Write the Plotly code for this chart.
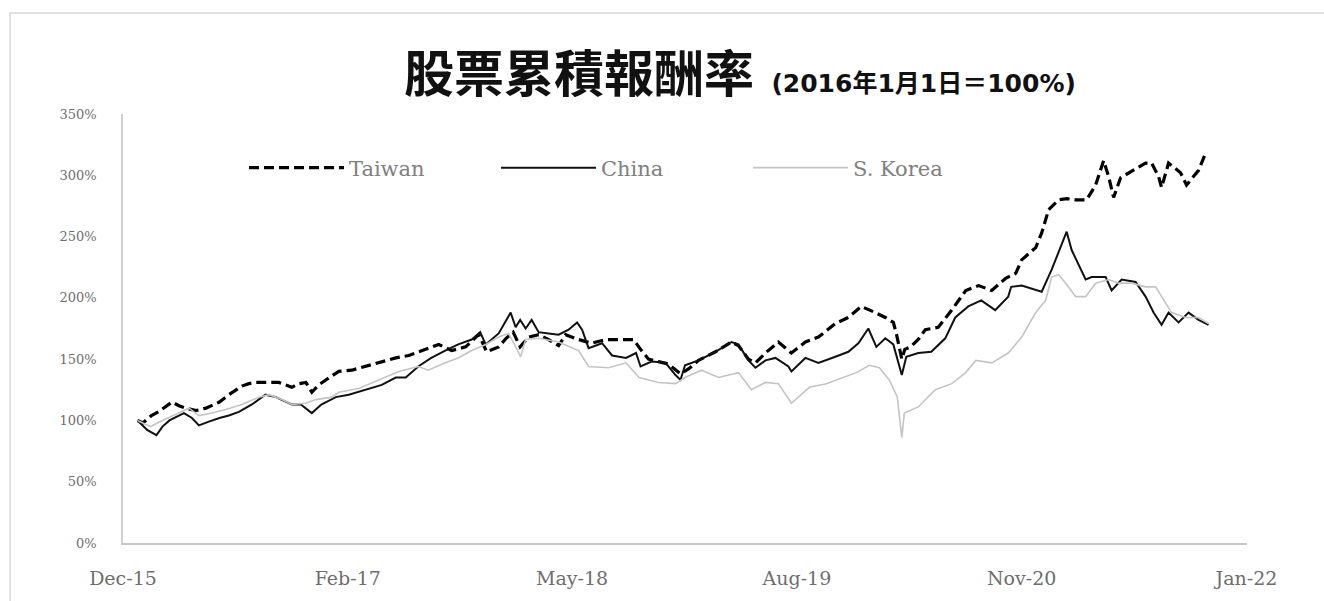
import plotly.graph_objects as go

# ---- data ----
taiwan_dates = ["2016-01-01","2016-01-12","2016-01-29","2016-02-12","2016-03-10","2016-03-24","2016-04-07","2016-04-27",
 "2016-05-17","2016-05-29","2016-06-13","2016-07-02","2016-07-28","2016-08-11","2016-08-24","2016-09-13","2016-10-10",
 "2016-10-23","2016-11-05","2016-11-19","2016-12-03","2016-12-15","2016-12-29","2017-01-12","2017-02-07","2017-03-05",
 "2017-04-02","2017-04-28","2017-06-01","2017-06-27","2017-07-22","2017-08-26","2017-09-21","2017-10-19","2017-11-14",
 "2017-11-30","2017-12-24","2018-01-08","2018-01-22","2018-02-05","2018-02-22","2018-03-14","2018-04-03","2018-04-23",
 "2018-05-07","2018-06-02","2018-06-28","2018-07-27","2018-08-21","2018-09-20","2018-10-04","2018-10-20","2018-11-09",
 "2018-11-29","2018-12-23","2019-01-08","2019-01-28","2019-03-03","2019-04-04","2019-04-18","2019-05-08","2019-05-22",
 "2019-06-11","2019-07-07","2019-08-02","2019-08-30","2019-09-25","2019-10-29","2019-11-24","2019-12-20","2020-01-17",
 "2020-02-06","2020-02-22","2020-02-28","2020-03-10","2020-03-16","2020-03-27","2020-04-12","2020-04-26","2020-05-22",
 "2020-06-18","2020-07-16","2020-08-11","2020-09-06","2020-10-04","2020-10-24","2020-11-05","2020-12-03","2020-12-15",
 "2020-12-29","2021-01-18","2021-02-03","2021-02-21","2021-03-15","2021-04-02","2021-04-18","2021-04-28","2021-05-08",
 "2021-05-22","2021-06-13","2021-07-11","2021-07-23","2021-08-06","2021-08-12","2021-08-26","2021-09-19","2021-10-01",
 "2021-10-25","2021-11-08"]
taiwan_vals = [100,98,104,107,115,112,110,108,
 110,112,115,121,128,130,131,131,131,
 129,127,130,131,123,129,133,140,141,
 144,147,151,153,157,162,157,160,170,
 156,160,167,172,160,168,170,166,161,
 170,166,163,166,166,166,158,150,148,
 146,138,142,149,156,164,161,150,147,
 155,164,155,164,168,179,184,193,188,
 184,180,171,150,158,160,166,174,176,
 190,206,210,206,216,220,231,241,253,
 272,280,281,280,280,292,312,299,282,
 298,303,310,310,299,290,310,302,292,
 304,318]

china_dates = ["2016-01-01","2016-01-21","2016-02-08","2016-02-20","2016-03-05","2016-04-03","2016-04-19","2016-05-03",
 "2016-05-23","2016-06-13","2016-07-02","2016-07-22","2016-08-17","2016-09-13","2016-10-04","2016-11-05","2016-11-23",
 "2016-12-15","2017-01-03","2017-02-01","2017-02-27","2017-04-02","2017-05-04","2017-06-01","2017-06-21","2017-07-16",
 "2017-08-11","2017-09-08","2017-10-04","2017-10-31","2017-11-17","2017-11-28","2017-12-24","2018-01-17","2018-01-27",
 "2018-02-05","2018-02-16","2018-02-28","2018-03-14","2018-04-03","2018-04-23","2018-05-13","2018-05-30","2018-06-09",
 "2018-06-22","2018-07-19","2018-08-08","2018-09-05","2018-09-25","2018-10-04","2018-10-26","2018-11-23","2018-12-13",
 "2018-12-23","2019-01-01","2019-01-28","2019-03-03","2019-04-04","2019-04-18","2019-05-08","2019-05-22","2019-06-11",
 "2019-07-01","2019-07-27","2019-08-02","2019-08-30","2019-09-25","2019-10-29","2019-11-24","2019-12-14","2020-01-03",
 "2020-01-19","2020-02-06","2020-02-22","2020-03-03","2020-03-10","2020-03-19","2020-04-12","2020-05-08","2020-06-05",
 "2020-06-25","2020-07-21","2020-08-16","2020-09-13","2020-10-09","2020-10-15","2020-11-05","2020-12-15","2021-01-04",
 "2021-01-18","2021-02-03","2021-02-13","2021-02-27","2021-03-13","2021-03-25","2021-04-22","2021-05-04","2021-05-24",
 "2021-06-21","2021-07-11","2021-07-27","2021-08-12","2021-08-26","2021-09-15","2021-10-05","2021-10-25","2021-11-14"]
china_vals = [100,92,88,95,100,106,102,96,
 99,102,104,107,113,121,119,113,113,
 106,113,119,121,125,129,135,135,144,
 151,157,162,166,172,162,171,188,176,
 182,175,182,172,171,170,174,180,174,
 159,163,153,151,155,144,148,147,137,
 133,145,149,156,164,162,149,143,149,
 151,144,140,151,147,152,156,163,175,
 160,167,162,147,137,152,155,156,167,
 184,193,198,190,201,209,210,205,223,
 237,254,239,227,215,217,217,206,215,
 213,201,188,178,188,180,188,182,178]

korea_dates = ["2016-01-01","2016-01-27","2016-02-20","2016-03-24","2016-04-13","2016-05-03","2016-05-29","2016-06-26",
 "2016-07-28","2016-08-31","2016-09-20","2016-10-16","2016-11-05","2016-12-03","2016-12-23","2017-01-24","2017-02-07",
 "2017-03-19","2017-04-28","2017-06-07","2017-07-16","2017-08-05","2017-09-08","2017-10-04","2017-10-31","2017-11-28",
 "2017-12-24","2018-01-13","2018-02-06","2018-02-16","2018-03-14","2018-04-23","2018-06-02","2018-06-22","2018-08-01",
 "2018-09-05","2018-10-01","2018-11-09","2018-12-13","2019-01-01","2019-02-03","2019-03-09","2019-04-18","2019-05-14",
 "2019-06-11","2019-07-07","2019-08-02","2019-09-07","2019-10-11","2019-11-12","2019-12-10","2020-01-05","2020-01-25",
 "2020-02-14","2020-03-01","2020-03-10","2020-03-15","2020-04-12","2020-05-16","2020-06-18","2020-07-16","2020-08-05",
 "2020-09-06","2020-10-09","2020-11-05","2020-12-03","2020-12-23","2021-01-04","2021-01-18","2021-02-01","2021-02-21",
 "2021-03-13","2021-04-02","2021-04-28","2021-05-18","2021-06-13","2021-07-11","2021-07-31","2021-08-20","2021-09-01",
 "2021-09-29","2021-10-25","2021-11-14"]
korea_vals = [100,95,100,106,110,104,106,109,
 113,119,121,117,113,114,117,119,123,
 126,133,140,144,141,147,151,157,162,
 168,171,152,166,167,164,157,144,143,
 147,135,131,130,135,141,135,139,125,
 131,130,114,127,130,135,139,145,143,
 133,119,86,106,111,125,130,139,149,
 147,155,168,188,198,217,219,212,201,
 201,212,215,212,212,209,209,196,188,
 184,184,179]

tick_dates = ["2015-12-03","2017-02-25","2018-05-20","2019-08-13","2020-11-05","2022-01-29"]
tick_labels = ["Dec-15","Feb-17","May-18","Aug-19","Nov-20","Jan-22"]
y_ticks = [0,50,100,150,200,250,300,350]
y_labels = [f"{v}%" for v in y_ticks]

fig = go.Figure()
fig.add_trace(go.Scatter(x=taiwan_dates, y=taiwan_vals, mode="lines", name="Taiwan",
                         line=dict(color="#000000", width=3.2, dash="10px,5px")))
fig.add_trace(go.Scatter(x=china_dates, y=china_vals, mode="lines", name="China",
                         line=dict(color="#111111", width=2)))
fig.add_trace(go.Scatter(x=korea_dates, y=korea_vals, mode="lines", name="S. Korea",
                         line=dict(color="#c4c4c4", width=1.6)))

W, H = 1324, 601
L, R, T, B = 123, 77, 114, 58
pw, ph = W - L - R, H - T - B

title_text = ("<b><span style='font-size:50px'>股票累積報酬率</span>"
              "<span style='font-size:25px;font-family:DejaVu Sans, Noto Sans CJK TC'>  (2016年1月1日＝100%)</span></b>")

fig.update_layout(
    width=W, height=H,
    margin=dict(l=L, r=R, t=T, b=B),
    paper_bgcolor="white", plot_bgcolor="white",
    showlegend=True,
    legend=dict(orientation="h", x=(244 - L) / pw, y=(H - B - 168) / ph, xanchor="left", yanchor="middle",
                font=dict(family="DejaVu Serif", size=21, color="#808080"),
                itemwidth=95, entrywidth=142, bgcolor="rgba(0,0,0,0)"),
    xaxis=dict(type="date", range=["2015-12-03", "2022-01-30"], tickvals=tick_dates, ticktext=tick_labels,
               showgrid=False, zeroline=False, showline=True, linecolor="#c8c8c8", linewidth=1.5,
               ticks="", tickfont=dict(family="DejaVu Serif", size=19, color="#6e6e6e"),
               ticklabelstandoff=17),
    yaxis=dict(range=[0, 350], tickvals=y_ticks, ticktext=y_labels, showgrid=False, zeroline=False,
               showline=True, linecolor="#d0d0d0", linewidth=1.5, ticks="",
               tickfont=dict(family="DejaVu Serif", size=13, color="#6e6e6e"), ticklabelstandoff=22),
    annotations=[dict(xref="paper", yref="paper", x=(740 - L) / pw, y=(H - B - 70) / ph,
                      xanchor="center", yanchor="middle", showarrow=False,
                      text=title_text,
                      font=dict(family="Noto Sans CJK TC", color="#111111"))],
    shapes=[dict(type="rect", xref="paper", yref="paper", x0=(10 - L) / pw, x1=1.3,
                 y0=-0.5, y1=(H - B - 13) / ph, line=dict(color="#d9d9d9", width=1.5), layer="below")],
)

fig.write_html("out.html", config={"displayModeBar": False},
               post_script="document.body.style.margin='0';document.body.style.overflow='hidden';")
